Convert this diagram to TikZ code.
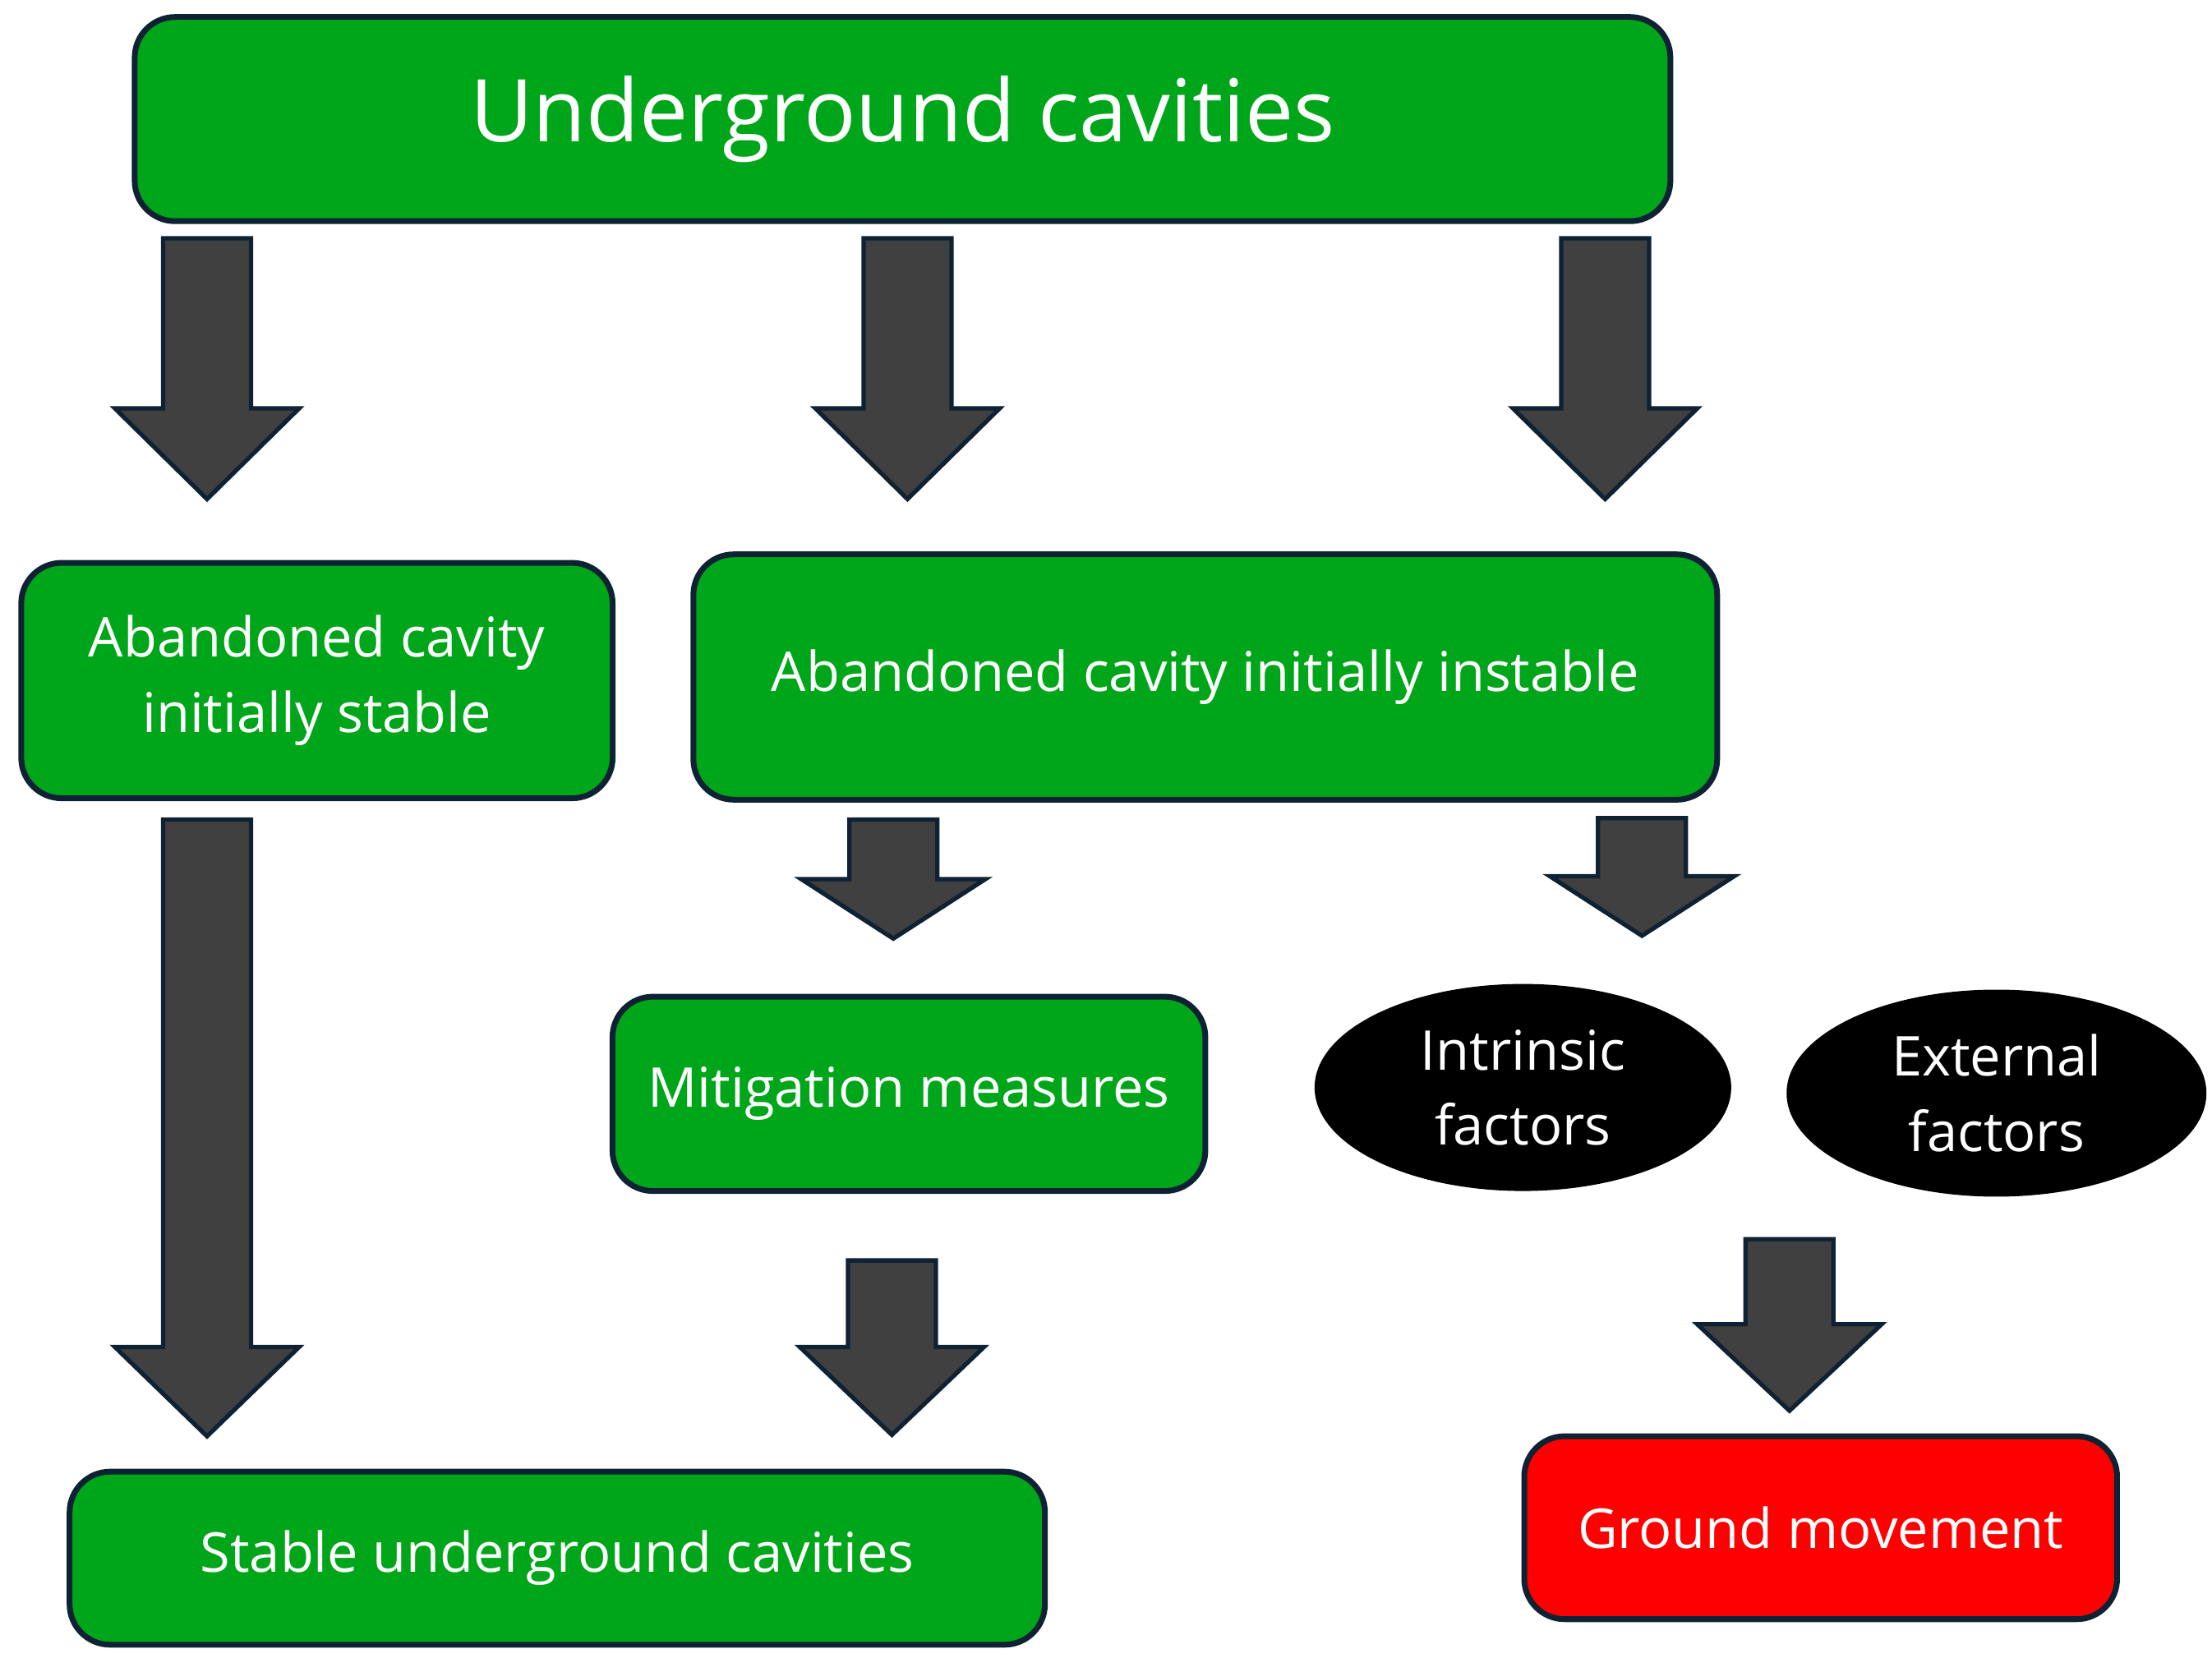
\documentclass[tikz,border=0pt]{standalone}
\usepackage{fontspec}
\setmainfont{Open Sans}
\usetikzlibrary{shapes.geometric}
\definecolor{gr}{HTML}{00A619}
\definecolor{bd}{HTML}{0E2233}
\definecolor{ar}{HTML}{404040}
\newcommand\myarrow[4]{% cx, top, headstart, tip
  \fill[ar,draw=bd,line width=1.5pt,line join=miter] (#1-31,#2) -- (#1+31,#2) -- (#1+31,#3) -- (#1+65,#3) -- (#1,#4) -- (#1-65,#3) -- (#1-31,#3) -- cycle;}
\begin{document}
\begin{tikzpicture}[x=0.01726cm,y=-0.01726cm,
  box/.style={draw=bd,line width=2pt,rounded corners=14pt,fill=gr,text=white,align=center,font=\fontsize{19}{26}\selectfont},
  ell/.style={ellipse,fill=black,text=white,align=center,inner sep=0pt,font=\fontsize{19}{26}\selectfont}]
\useasboundingbox (0,0) rectangle (1560,1169);
\node[box,minimum width=1083\pgflinewidth*0+18.69cm,minimum height=2.485cm,font=\fontsize{30}{36}\selectfont] (top) at (636.5,84) {Underground cavities};
\node[box,minimum width=7.197cm,minimum height=2.865cm] (stable) at (223.5,480) {Abandoned cavity\\initially stable};
\node[box,minimum width=12.46cm,minimum height=2.986cm] (instable) at (850,477.5) {Abandoned cavity initially instable};
\node[box,minimum width=7.215cm,minimum height=2.365cm] (mit) at (641,771.5) {Mitigation measures};
\node[ell,minimum width=5.07cm,minimum height=2.52cm] (intr) at (1074,767) {Intrinsic\\factors};
\node[ell,minimum width=5.11cm,minimum height=2.52cm] (ext) at (1408,771) {External\\factors};
\node[box,minimum width=11.87cm,minimum height=2.106cm] (sfin) at (393,1099) {Stable underground cavities};
\node[box,fill=red,minimum width=7.215cm,minimum height=2.227cm] (gm) at (1284,1077.5) {Ground movement};
\myarrow{146}{168}{288}{352}
\myarrow{640}{168}{288}{352}
\myarrow{1132}{168}{288}{352}
\myarrow{146}{578}{950}{1013}
\myarrow{630}{578}{620}{662}
\myarrow{1158}{577}{618}{660}
\myarrow{629}{889}{950}{1012}
\myarrow{1262}{874}{934}{995}
\end{tikzpicture}
\end{document}
